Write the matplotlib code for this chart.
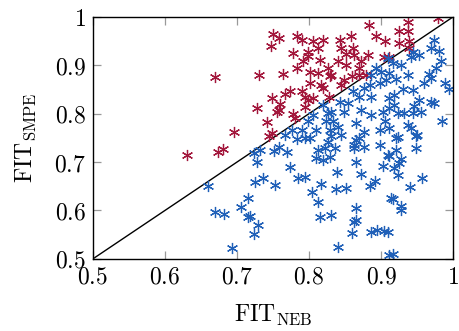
import numpy as np
import matplotlib
matplotlib.use('Agg')
import matplotlib.pyplot as plt

plt.rcParams['mathtext.fontset'] = 'cm'
plt.rcParams['font.family'] = 'serif'
plt.rcParams['font.serif'] = ['DejaVu Serif']

# Punkte oberhalb der Diagonale (SMPE besser)
red_x = [0.750, 0.747, 0.669, 0.731, 0.749, 0.728, 0.755, 0.741, 0.696, 0.749,
         0.744, 0.630, 0.674, 0.681, 0.758, 0.783, 0.790, 0.806, 0.820, 0.813,
         0.798, 0.778, 0.799, 0.792, 0.815, 0.783, 0.764, 0.801, 0.813, 0.826,
         0.829, 0.801, 0.817, 0.820, 0.790, 0.774, 0.767, 0.794, 0.799, 0.806,
         0.760, 0.758, 0.778, 0.781, 0.794, 0.883, 0.858, 0.843, 0.893, 0.905,
         0.845, 0.861, 0.852, 0.882, 0.863, 0.872, 0.840, 0.852, 0.870, 0.859,
         0.849, 0.870, 0.879, 0.845, 0.828, 0.831, 0.979, 0.938, 0.925, 0.937,
         0.925, 0.939, 0.939, 0.911, 0.904]
red_y = [0.965, 0.939, 0.875, 0.879, 0.832, 0.811, 0.804, 0.782, 0.763, 0.760,
         0.754, 0.715, 0.720, 0.727, 0.957, 0.961, 0.952, 0.950, 0.952, 0.935,
         0.928, 0.925, 0.920, 0.909, 0.911, 0.894, 0.882, 0.887, 0.884, 0.894,
         0.877, 0.863, 0.860, 0.853, 0.846, 0.847, 0.840, 0.835, 0.829, 0.832,
         0.820, 0.808, 0.799, 0.791, 0.813, 0.983, 0.961, 0.952, 0.961, 0.950,
         0.935, 0.935, 0.923, 0.921, 0.921, 0.908, 0.908, 0.901, 0.894, 0.877,
         0.870, 0.880, 0.880, 0.860, 0.835, 0.880, 0.997, 0.989, 0.971, 0.971,
         0.946, 0.950, 0.935, 0.918, 0.917]

# Punkte unterhalb der Diagonale (NEB besser)
blue_x = [0.660, 0.670, 0.682, 0.705, 0.715, 0.715, 0.718, 0.729, 0.723, 0.693,
          0.725, 0.736, 0.753, 0.728, 0.723, 0.732, 0.751, 0.820, 0.806, 0.799,
          0.810, 0.824, 0.790, 0.776, 0.767, 0.826, 0.794, 0.909, 0.900, 0.893,
          0.886, 0.907, 0.898, 0.884, 0.877, 0.861, 0.870, 0.886, 0.843, 0.854,
          0.872, 0.886, 0.849, 0.831, 0.902, 0.911, 0.833, 0.840, 0.865, 0.877,
          0.905, 0.898, 0.829, 0.845, 0.973, 0.969, 0.980, 0.944, 0.953, 0.941,
          0.983, 0.916, 0.927, 0.976, 0.937, 0.967, 0.969, 0.911, 0.921, 0.960,
          0.989, 0.994, 0.930, 0.944, 0.918, 0.953, 0.969, 0.973, 0.946, 0.911,
          0.918, 0.923, 0.932, 0.944, 0.955, 0.985, 0.937, 0.941, 0.950, 0.923,
          0.911, 0.758, 0.769, 0.783, 0.801, 0.813, 0.810, 0.820, 0.829, 0.826,
          0.774, 0.785, 0.794, 0.816, 0.804, 0.812, 0.815, 0.830, 0.831, 0.865,
          0.836, 0.863, 0.877, 0.898, 0.909, 0.865, 0.902, 0.839, 0.872, 0.891,
          0.884, 0.837, 0.852, 0.865, 0.865, 0.863, 0.860, 0.886, 0.895, 0.904,
          0.840, 0.914, 0.911, 0.921, 0.949, 0.948, 0.921, 0.911, 0.928, 0.925,
          0.918, 0.923, 0.957, 0.940, 0.917, 0.927, 0.927, 0.909, 0.916, 0.870,
          0.863, 0.822]
blue_y = [0.651, 0.596, 0.593, 0.607, 0.625, 0.586, 0.589, 0.569, 0.551, 0.522,
          0.658, 0.667, 0.653, 0.701, 0.718, 0.725, 0.722, 0.818, 0.798, 0.784,
          0.767, 0.784, 0.767, 0.767, 0.756, 0.801, 0.749, 0.915, 0.887, 0.894,
          0.880, 0.870, 0.863, 0.860, 0.853, 0.846, 0.835, 0.835, 0.824, 0.822,
          0.808, 0.798, 0.804, 0.804, 0.804, 0.811, 0.784, 0.773, 0.780, 0.763,
          0.784, 0.767, 0.767, 0.756, 0.952, 0.935, 0.930, 0.928, 0.921, 0.918,
          0.908, 0.904, 0.901, 0.894, 0.880, 0.882, 0.873, 0.884, 0.872, 0.863,
          0.863, 0.851, 0.851, 0.849, 0.839, 0.829, 0.824, 0.822, 0.815, 0.832,
          0.818, 0.801, 0.801, 0.801, 0.804, 0.784, 0.777, 0.770, 0.756, 0.751,
          0.770, 0.732, 0.720, 0.748, 0.749, 0.725, 0.708, 0.705, 0.711, 0.742,
          0.689, 0.667, 0.670, 0.654, 0.638, 0.618, 0.587, 0.591, 0.753, 0.746,
          0.729, 0.729, 0.732, 0.736, 0.715, 0.701, 0.691, 0.680, 0.675, 0.660,
          0.651, 0.645, 0.646, 0.605, 0.581, 0.576, 0.553, 0.555, 0.560, 0.558,
          0.525, 0.625, 0.508, 0.749, 0.753, 0.729, 0.725, 0.713, 0.707, 0.698,
          0.687, 0.674, 0.667, 0.649, 0.624, 0.610, 0.601, 0.556, 0.510, 0.749,
          0.736, 0.729]

ticks = [0.5, 0.6, 0.7, 0.8, 0.9, 1]
tick_labels = ['$0.5$', '$0.6$', '$0.7$', '$0.8$', '$0.9$', '$1$']

fig = plt.figure(figsize=(4.6, 3.31), dpi=100)
ax = fig.add_axes([0.202, 0.218, 0.783, 0.731])

star = (6, 2, 0)
ax.plot([0.5, 1], [0.5, 1], color='black', lw=1.0, zorder=1)
ax.plot(red_x, red_y, linestyle='none', marker=star, ms=8, mew=0.9,
        color='#a3173c', zorder=2)
ax.plot(blue_x, blue_y, linestyle='none', marker=star, ms=8, mew=0.9,
        color='#2060b8', zorder=2)

ax.set_xlim(0.5, 1)
ax.set_ylim(0.5, 1)
ax.set_xticks(ticks)
ax.set_yticks(ticks)
ax.set_xticklabels(tick_labels)
ax.set_yticklabels(tick_labels)
ax.tick_params(direction='in', top=True, right=True, length=6, width=0.9,
               color='0.6', labelsize=17, pad=5)
for s in ax.spines.values():
    s.set_linewidth(1.0)

ax.set_xlabel(r'$\mathrm{FIT}_{\mathrm{NEB}}$', fontsize=17, labelpad=10)
ax.set_ylabel(r'$\mathrm{FIT}_{\mathrm{SMPE}}$', fontsize=17, labelpad=12)

plt.savefig('out.png', dpi=100)
